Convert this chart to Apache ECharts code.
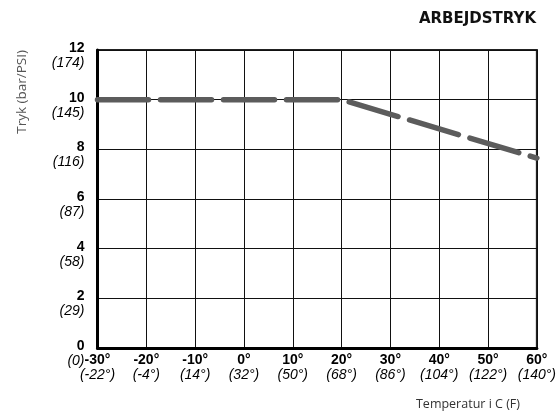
<!DOCTYPE html>
<html>
<head>
<meta charset="utf-8">
<script src="https://cdn.jsdelivr.net/npm/echarts@6/dist/echarts.min.js"></script>
<style>html,body{margin:0;padding:0;background:#fff}#c{width:559px;height:418px}</style>
</head>
<body>
<div id="c"></div>
<script>
// Data
const tempC = [-30, -20, -10, 0, 10, 20, 30, 40, 50, 60];
const tempF = ['-22', '-4', '14', '32', '50', '68', '86', '104', '122', '140'];
const pressureBar = [0, 2, 4, 6, 8, 10, 12];
const pressurePsi = ['0', '29', '58', '87', '116', '145', '174'];
const curveTemp = [-30, 20, 60];
const curvePressure = [10, 10, 7.65];

const chart = echarts.init(document.getElementById('c'), null, {renderer: 'canvas'});
const lab = 'Liberation Sans, Arial, sans-serif';
const option = {
  animation: false,
  backgroundColor: '#fff',
  title: [
    {text: 'ARBEJDSTRYK', right: 18, top: 7,
     textStyle: {fontFamily: 'DejaVu Sans', fontWeight: 'bold', fontSize: 15, color: '#111'}},
    {text: 'Temperatur i C (F)', right: 34, top: 393,
     textStyle: {fontFamily: 'Open Sans', fontWeight: 'normal', fontSize: 12.5, color: '#333'}}
  ],
  graphic: [{
    type: 'text', left: 15, top: 50, rotation: Math.PI / 2,
    style: {text: 'Tryk (bar/PSI)', font: '13.5px "Open Sans"', fill: '#555'}
  }],
  grid: {left: 97.5, right: 22, top: 50, bottom: 70, show: true, borderColor: '#222', borderWidth: 2},
  xAxis: {
    type: 'value', min: -30, max: 60, interval: 10,
    axisLine: {show: true, onZero: false, lineStyle: {color: '#000', width: 3}},
    axisTick: {show: false},
    splitLine: {show: true, lineStyle: {color: '#111', width: 1}},
    axisLabel: {
      margin: 5, showMinLabel: true, showMaxLabel: true,
      formatter: v => { const i = tempC.indexOf(v); return '{a|' + v + '°}\n{b|(' + tempF[i] + '°)}'; },
      rich: {
        a: {fontFamily: lab, fontWeight: 'bold', fontSize: 14, lineHeight: 15, color: '#000'},
        b: {fontFamily: lab, fontStyle: 'italic', fontSize: 14, lineHeight: 15, color: '#000'}
      }
    }
  },
  yAxis: {
    type: 'value', min: 0, max: 12, interval: 2,
    axisLine: {show: true, onZero: false, lineStyle: {color: '#000', width: 3}},
    axisTick: {show: false},
    splitLine: {show: true, lineStyle: {color: '#111', width: 1}},
    axisLabel: {
      margin: 13, align: 'right', padding: [11, 0, 0, 0],
      formatter: v => { const i = pressureBar.indexOf(v); return '{a|' + v + '}\n{b|(' + pressurePsi[i] + ')}'; },
      rich: {
        a: {fontFamily: lab, fontWeight: 'bold', fontSize: 14, lineHeight: 15, color: '#000', align: 'right'},
        b: {fontFamily: lab, fontStyle: 'italic', fontSize: 14, lineHeight: 15, color: '#000', align: 'right'}
      }
    }
  },
  series: [{
    type: 'line',
    data: curveTemp.map((t, i) => [t, curvePressure[i]]),
    symbol: 'none',
    clip: false,
    z: 5,
    lineStyle: {color: '#5c5c5c', width: 5.5, type: [51, 12], cap: 'round', join: 'round'}
  }]
};
chart.setOption(option);
</script>
</body>
</html>
